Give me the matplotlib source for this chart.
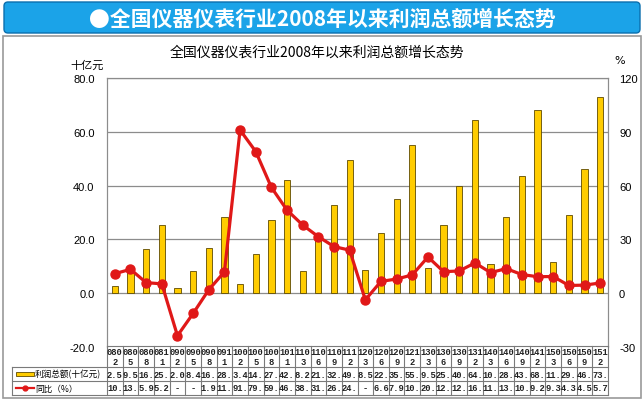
import matplotlib
matplotlib.use("Agg")
import matplotlib.pyplot as plt
from matplotlib.patches import FancyBboxPatch, Rectangle
from matplotlib.lines import Line2D

plt.rcParams['font.family'] = ['Noto Sans CJK SC', 'DejaVu Sans']

# data
periods = ['0802', '0805', '0808', '0811', '0902', '0905', '0908', '0911',
           '1002', '1005', '1008', '1011', '1103', '1106', '1109', '1112',
           '1203', '1206', '1209', '1212', '1303', '1306', '1309', '1312',
           '1403', '1406', '1409', '1412', '1503', '1506', '1509', '1512']
profit = [2.5, 9.5, 16.5, 25.4, 2.0, 8.4, 16.7, 28.3,
          3.4, 14.7, 27.3, 42.1, 8.2, 21.3, 32.7, 49.5,
          8.5, 22.2, 35.1, 55.0, 9.5, 25.2, 40.0, 64.3,
          10.9, 28.3, 43.7, 68.0, 11.6, 29.0, 46.2, 73.0]
growth = [10.9, 13.3, 5.9, 5.2, -23.7, -11.3, 1.9, 11.9,
          91.0, 79.0, 59.0, 46.3, 38.0, 31.5, 26.0, 24.0,
          -3.7, 6.6, 7.9, 10.2, 20.2, 12.0, 12.4, 16.9,
          11.5, 13.7, 10.4, 9.2, 9.3, 4.3, 4.5, 5.7]
left_ticks = [-20, 0, 20, 40, 60, 80]
right_ticks = [-30, 0, 30, 60, 90, 120]

banner_title = '●全国仪器仪表行业2008年以来利润总额增长态势'
chart_title = '全国仪器仪表行业2008年以来利润总额增长态势'
profit_label = '利润总额(十亿元)'
growth_label = '同比（%）'

W, H = 644, 402
BAR_C = '#FFCC00'
LINE_C = '#E01818'
GRID_C = '#8c8c8c'
TFONT = dict(fontsize=6.3, family='Liberation Mono', fontweight='bold', color='#222222')


def cell(v):
    # the table cells are narrow, so the source truncates the text
    return '-' if v < 0 else f'{v:.1f}'[:3]


fig = plt.figure(figsize=(W / 100, H / 100), dpi=100)

# background layer in pixel coordinates
bg = fig.add_axes([0, 0, 1, 1], zorder=-5)
bg.set_xlim(0, W)
bg.set_ylim(H, 0)
bg.axis('off')
bg.add_patch(Rectangle((3, 37), 638, 362, facecolor='white', edgecolor='#9a9a9a', lw=1.2))
bg.add_patch(FancyBboxPatch((4, 3), 636, 31, boxstyle='round,pad=0,rounding_size=4',
                            facecolor='#1BA3E8', edgecolor='#0B6FAE', lw=1))
bg.text(322, 19, banner_title, color='white', fontsize=15, fontweight='bold',
        ha='center', va='center')
bg.text(317, 53, chart_title, fontsize=10, ha='center', va='center')
bg.text(87, 66, '十亿元', fontsize=8, ha='center', va='center')
bg.text(620, 61, '%', fontsize=8, ha='center', va='center', family='DejaVu Sans')

# main plot
L, R, T, B = 107, 608, 79, 348
ax = fig.add_axes([L / W, 1 - B / H, (R - L) / W, (B - T) / H])
x = list(range(len(periods)))
ax.bar(x, profit, width=0.4, color=BAR_C, edgecolor='#5e4a00', linewidth=0.6, zorder=3)
ax.set_xlim(-0.5, len(periods) - 0.5)
ax.set_ylim(-20, 80)
ax.set_yticks(left_ticks)
ax.set_yticklabels([f'{t:.1f}' for t in left_ticks], fontsize=8, family='Liberation Sans')
ax.set_xticks([])
ax.tick_params(axis='y', length=0, pad=9)
ax.grid(axis='y', color=GRID_C, lw=0.9)
ax.set_axisbelow(True)
for s in ['left', 'right', 'top']:
    ax.spines[s].set_color(GRID_C)
ax.spines['bottom'].set_visible(False)

ax2 = ax.twinx()
ax2.plot(x, growth, color=LINE_C, lw=2.3, marker='o', ms=6.5, zorder=5)
ax2.set_ylim(-30, 120)
ax2.set_yticks(right_ticks)
ax2.set_yticklabels([str(t) for t in right_ticks], fontsize=8, family='Liberation Sans')
ax2.tick_params(axis='y', length=0, pad=8)
for s in ['left', 'right', 'top']:
    ax2.spines[s].set_color(GRID_C)
ax2.spines['bottom'].set_visible(False)

# data table under the plot, x shares the category positions
TT, TB = 347, 396
r1, r2 = 368, 382
tax = fig.add_axes([L / W, 1 - TB / H, (R - L) / W, (TB - TT) / H])
tax.set_xlim(-0.5, len(periods) - 0.5)
tax.set_ylim(TB, TT)
tax.axis('off')
colw = (R - L) / len(periods)


def px2x(px):
    return -0.5 + (px - L) / colw


tc = '#7a7a7a'
for i in range(len(periods) + 1):
    tax.add_line(Line2D([i - 0.5, i - 0.5], [TT, TB], color=tc, lw=0.8, clip_on=False))
tax.add_line(Line2D([-0.5, len(periods) - 0.5], [TT, TT], color=tc, lw=0.8, clip_on=False))
for yy in [r1, r2, TB]:
    tax.add_line(Line2D([px2x(12), len(periods) - 0.5], [yy, yy], color=tc, lw=0.8, clip_on=False))
tax.add_line(Line2D([px2x(12), px2x(12)], [r1, TB], color=tc, lw=0.8, clip_on=False))

for i, p in enumerate(periods):
    tax.text(i, 352.5, p[:3], ha='center', va='center', **TFONT)
    tax.text(i, 362.5, p[3:], ha='center', va='center', **TFONT)
    tax.text(i, (r1 + r2) / 2, cell(profit[i]), ha='center', va='center', **TFONT)
    tax.text(i, (r2 + TB) / 2, cell(growth[i]), ha='center', va='center', **TFONT)

tax.add_patch(Rectangle((px2x(16), 373), px2x(34) - px2x(16), 4, facecolor=BAR_C,
                        edgecolor='#5e4a00', lw=0.6, clip_on=False))
tax.text(px2x(35), (r1 + r2) / 2, profit_label, fontsize=6.2, ha='left', va='center', clip_on=False)
tax.add_line(Line2D([px2x(16), px2x(34)], [389, 389], color=LINE_C, lw=1.6, clip_on=False))
tax.add_line(Line2D([px2x(25)], [389], color=LINE_C, marker='o', ms=3.5, clip_on=False))
tax.text(px2x(35), (r2 + TB) / 2, growth_label, fontsize=6.2, ha='left', va='center', clip_on=False)

fig.savefig('out.png', dpi=100)
